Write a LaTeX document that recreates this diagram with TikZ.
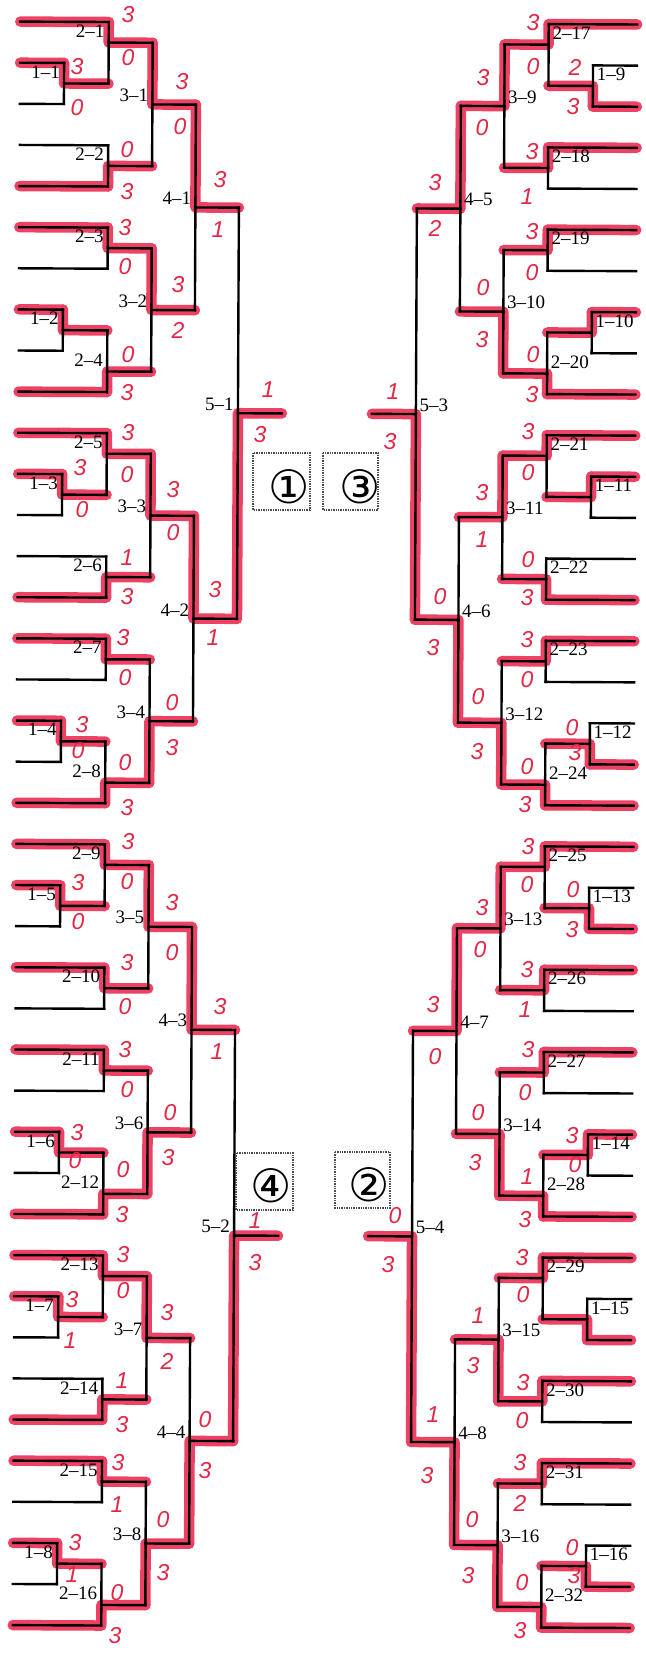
\documentclass[tikz,border=0pt]{standalone}
\usepackage{fontspec}
\setmainfont{Liberation Serif}
\newfontfamily\handfont{Liberation Sans}
\newfontfamily\symfont{DejaVu Sans}
\pgfdeclarelayer{paper}
\pgfdeclarelayer{hilite}
\pgfsetlayers{paper,hilite,main}
\definecolor{hlred}{RGB}{238,66,100}
\definecolor{penred}{RGB}{226,40,70}
\tikzset{
  bline/.style={draw=black,line width=2.4pt,line cap=rect},
  hline/.style={draw=hlred,line width=10.5pt,line cap=round,line join=round},
  lbl/.style={font=\fontsize{19}{19}\selectfont,inner sep=0.6pt},
  score/.style={font=\handfont\itshape\fontsize{23}{23}\selectfont,text=penred,inner sep=0pt},
  pbox/.style={draw=black!70,densely dotted,line width=1.4pt},
  circ/.style={font=\symfont\fontsize{46}{46}\selectfont,inner sep=0pt},
}
\newcommand\SY[1]{{23+(#1)*41.12}}
% match: name, x vertical, x next, k top, k bottom, k out, winner
\newcommand\mt[7]{%
  \coordinate (#1t) at (#2,\SY{#4});
  \coordinate (#1b) at (#2,\SY{#5});
  \coordinate (#1o) at (#2,\SY{#6});
  \coordinate (#1n) at (#3,\SY{#6});
  \draw[bline] (#1t) -- (#1b);
  \draw[bline] (#1o) -- (#1n);
  \begin{pgfonlayer}{hilite}\draw[hline] (#1#7) -- (#1o) -- (#1n);\end{pgfonlayer}
}
% entry line: name, k, x start, target, winner, own side
\newcommand\slotln[6]{%
  \coordinate (#1) at (#3,\SY{#2});
  \draw[bline] (#1) -- (#4);
  \if#5#6\begin{pgfonlayer}{hilite}\draw[hline] (#1) -- (#4);\end{pgfonlayer}\fi
}
\newcommand\labN[3]{\node[lbl,anchor=\NA,xshift=\LX,yshift=-1.8pt] (#1) at (#2) {#3};}
\newcommand\labS[3]{\node[lbl,anchor=\SA,xshift=\LX,yshift=1.8pt] (#1) at (#2) {#3};}
\newcommand\setL{\def\xE{16.5}\def\xA{60.5}\def\xB{105}\def\xC{149}\def\xD{192.5}\def\xF{236}\def\xG{280}%
  \def\NA{north east}\def\SA{south east}\def\LX{-3.5pt}}
\newcommand\setR{\def\xE{633.5}\def\xA{589.5}\def\xB{545}\def\xC{501}\def\xD{457.5}\def\xF{414}\def\xG{370}%
  \def\NA{north west}\def\SA{south west}\def\LX{3pt}}
\newcommand\blk[3]{\def\P{#1}\def\B{#2}\def\J{#3}\blkx}
\newcommand\blkx[9]{%
  \mt{\P1a}{\xA}{\xB}{\B+1}{\B+2}{\B+1.5}{#1}
  \slotln{\P s1}{\B+1}{\xE}{\P1at}{#1}{t}
  \slotln{\P s2}{\B+2}{\xE}{\P1ab}{#1}{b}
  \mt{\P2a}{\xB}{\xC}{\B}{\B+1.5}{\B+0.5}{#2}
  \slotln{\P s0}{\B}{\xE}{\P2at}{#2}{t}
  \mt{\P2b}{\xB}{\xC}{\B+3}{\B+4}{\B+3.5}{#3}
  \slotln{\P s3}{\B+3}{\xE}{\P2bt}{#3}{t}
  \slotln{\P s4}{\B+4}{\xE}{\P2bb}{#3}{b}
  \mt{\P3a}{\xC}{\xD}{\B+0.5}{\B+3.5}{\B+2}{#4}
  \mt{\P2c}{\xB}{\xC}{\B+5}{\B+6}{\B+5.5}{#5}
  \slotln{\P s5}{\B+5}{\xE}{\P2ct}{#5}{t}
  \slotln{\P s6}{\B+6}{\xE}{\P2cb}{#5}{b}
  \mt{\P1b}{\xA}{\xB}{\B+7}{\B+8}{\B+7.5}{#6}
  \slotln{\P s7}{\B+7}{\xE}{\P1bt}{#6}{t}
  \slotln{\P s8}{\B+8}{\xE}{\P1bb}{#6}{b}
  \mt{\P2d}{\xB}{\xC}{\B+7.5}{\B+9}{\B+8.5}{#7}
  \slotln{\P s9}{\B+9}{\xE}{\P2db}{#7}{b}
  \mt{\P3b}{\xC}{\xD}{\B+5.5}{\B+8.5}{\B+7}{#8}
  \mt{\P4}{\xD}{\xF}{\B+2}{\B+7}{\B+4.5}{#9}
  \pgfmathtruncatemacro\nA{4*\J+1}\pgfmathtruncatemacro\nB{4*\J+2}%
  \pgfmathtruncatemacro\nC{4*\J+3}\pgfmathtruncatemacro\nD{4*\J+4}%
  \pgfmathtruncatemacro\oA{2*\J+1}\pgfmathtruncatemacro\oB{2*\J+2}%
  \pgfmathtruncatemacro\fA{\J+1}%
  \labN{\P L2a}{\P2at}{2–\nA}
  \labN{\P L1a}{\P1at}{1–\oA}
  \labN{\P L2b}{\P2bt}{2–\nB}
  \labS{\P L3a}{\P3ao}{3–\oA}
  \labN{\P L2c}{\P2ct}{2–\nC}
  \labN{\P L1b}{\P1bt}{1–\oB}
  \labN{\P L2d}{\P2dt |- \P s8}{2–\nD}
  \labS{\P L3b}{\P3bo}{3–\oB}
  \labS{\P L4}{\P4o}{4–\fA}
}
\newcommand\scr[4]{\node[score] (#1) at (#2,#3) {#4};}
\begin{document}
\begin{tikzpicture}[x=1pt,y=-1pt]
\useasboundingbox (0,0) rectangle (645,1653);
\begin{pgfonlayer}{paper}\fill[white] (0,0) rectangle (645,1653);\end{pgfonlayer}
\begin{scope}[rotate around={-0.27:(322,826)}]
\setL
\blk{a}{0}{0}{t}{t}{b}{t}{t}{t}{b}{t}{t}
\blk{b}{10}{1}{t}{t}{b}{t}{t}{t}{b}{b}{t}
\blk{c}{20}{2}{t}{t}{t}{t}{t}{t}{b}{b}{t}
\blk{d}{30}{3}{t}{t}{b}{t}{t}{t}{b}{b}{b}
\mt{F1}{\xF}{\xG}{4.5}{14.5}{9.5}{b}
\labS{F1L}{F1o}{5–1}
\mt{F2}{\xF}{\xG}{24.5}{34.5}{29.5}{b}
\labS{F2L}{F2o}{5–2}
\setR
\blk{e}{0}{4}{b}{t}{t}{t}{t}{t}{b}{b}{t}
\blk{f}{10}{5}{t}{t}{b}{t}{t}{b}{b}{b}{b}
\blk{g}{20}{6}{b}{t}{t}{t}{t}{t}{b}{b}{t}
\blk{h}{30}{7}{b}{t}{t}{b}{t}{b}{b}{b}{b}
\mt{F3}{\xF}{\xG}{4.5}{14.5}{9.5}{b}
\labS{F3L}{F3o}{5–3}
\mt{F4}{\xF}{\xG}{24.5}{34.5}{29.5}{b}
\labS{F4L}{F4o}{5–4}
\end{scope}
% place boxes
\draw[pbox] (253,453) rectangle (310,510) node[pos=0.5,opacity=0] (boxA) {};
\node[circ] (c1) at (289,487) {①};
\draw[pbox] (323,453) rectangle (378,510) node[pos=0.5,opacity=0] (boxC) {};
\node[circ] (c3) at (360,487) {③};
\draw[pbox] (236,1153) rectangle (293,1210) node[pos=0.5,opacity=0] (boxD) {};
\node[circ] (c4) at (271,1186) {④};
\draw[pbox] (335,1152) rectangle (390,1208) node[pos=0.5,opacity=0] (boxB) {};
\node[circ] (c2) at (369,1185) {②};
% scores, left top
\scr{q1}{128}{15}{3}\scr{q2}{128}{58}{0}
\scr{q3}{77}{67}{3}\scr{q4}{77}{108}{0}
\scr{q5}{182}{82}{3}\scr{q6}{180}{127}{0}
\scr{q7}{127}{150}{0}\scr{q8}{127}{192}{3}
\scr{q9}{220}{180}{3}\scr{q10}{218}{230}{1}
\scr{q11}{125}{228}{3}\scr{q12}{125}{267}{0}
\scr{q13}{178}{285}{3}\scr{q14}{178}{330}{2}
\scr{q15}{128}{355}{0}\scr{q16}{127}{393}{3}
\scr{q17}{268}{390}{1}\scr{q18}{260}{435}{3}
\scr{q19}{128}{433}{3}\scr{q20}{127}{475}{0}
\scr{q21}{80}{468}{3}\scr{q22}{82}{510}{0}
\scr{q23}{173}{490}{3}\scr{q24}{173}{533}{0}
\scr{q25}{127}{558}{1}\scr{q26}{127}{597}{3}
\scr{q27}{215}{590}{3}\scr{q28}{213}{638}{1}
\scr{q29}{123}{638}{3}\scr{q30}{125}{678}{0}
\scr{q31}{172}{703}{0}\scr{q32}{172}{748}{3}
\scr{q33}{82}{725}{3}\scr{q34}{78}{751}{0}
\scr{q35}{125}{763}{0}\scr{q36}{127}{808}{3}
% left bottom
\scr{q37}{128}{842}{3}\scr{q38}{127}{882}{0}
\scr{q39}{78}{883}{3}\scr{q40}{78}{922}{0}
\scr{q41}{172}{903}{3}\scr{q42}{172}{953}{0}
\scr{q43}{127}{963}{3}\scr{q44}{125}{1007}{0}
\scr{q45}{220}{1007}{3}\scr{q46}{217}{1052}{1}
\scr{q47}{125}{1050}{3}\scr{q48}{127}{1090}{0}
\scr{q49}{170}{1113}{0}\scr{q50}{168}{1158}{3}
\scr{q51}{77}{1133}{3}\scr{q52}{75}{1161}{0}
\scr{q53}{123}{1170}{0}\scr{q54}{122}{1215}{3}
\scr{q55}{255}{1221}{1}\scr{q56}{255}{1263}{3}
\scr{q57}{123}{1255}{3}\scr{q58}{123}{1291}{0}
\scr{q59}{72}{1300}{3}\scr{q60}{70}{1341}{1}
\scr{q61}{167}{1313}{3}\scr{q62}{167}{1361}{2}
\scr{q63}{122}{1381}{1}\scr{q64}{122}{1425}{3}
\scr{q65}{205}{1420}{0}\scr{q66}{205}{1471}{3}
\scr{q67}{118}{1463}{3}\scr{q68}{117}{1505}{1}
\scr{q69}{163}{1520}{0}\scr{q70}{163}{1573}{3}
\scr{q71}{75}{1543}{3}\scr{q72}{72}{1575}{1}
\scr{q73}{117}{1593}{0}\scr{q74}{115}{1636}{3}
% right top
\scr{q75}{533}{23}{3}\scr{q76}{533}{67}{0}
\scr{q77}{575}{67}{2}\scr{q78}{573}{107}{3}
\scr{q79}{483}{78}{3}\scr{q80}{482}{128}{0}
\scr{q81}{532}{152}{3}\scr{q82}{527}{197}{1}
\scr{q83}{435}{183}{3}\scr{q84}{435}{228}{2}
\scr{q85}{532}{232}{3}\scr{q86}{532}{273}{0}
\scr{q87}{483}{288}{0}\scr{q88}{482}{340}{3}
\scr{q89}{533}{355}{0}\scr{q90}{532}{395}{3}
\scr{q91}{393}{392}{1}\scr{q92}{390}{442}{3}
\scr{q93}{528}{432}{3}\scr{q94}{528}{473}{0}
\scr{q95}{482}{493}{3}\scr{q96}{482}{540}{1}
\scr{q97}{528}{560}{0}\scr{q98}{527}{598}{3}
\scr{q99}{440}{597}{0}\scr{q100}{433}{648}{3}
\scr{q101}{527}{640}{3}\scr{q102}{527}{680}{0}
\scr{q103}{478}{697}{0}\scr{q104}{477}{752}{3}
\scr{q105}{572}{728}{0}\scr{q106}{575}{753}{3}
\scr{q107}{527}{767}{0}\scr{q108}{525}{805}{3}
% right bottom
\scr{q109}{528}{847}{3}\scr{q110}{527}{885}{0}
\scr{q111}{573}{890}{0}\scr{q112}{572}{930}{3}
\scr{q113}{482}{908}{3}\scr{q114}{480}{950}{0}
\scr{q115}{527}{970}{3}\scr{q116}{525}{1010}{1}
\scr{q117}{433}{1005}{3}\scr{q118}{435}{1057}{0}
\scr{q119}{528}{1050}{3}\scr{q120}{525}{1093}{0}
\scr{q121}{478}{1113}{0}\scr{q122}{475}{1163}{3}
\scr{q123}{572}{1136}{3}\scr{q124}{575}{1165}{0}
\scr{q125}{527}{1177}{1}\scr{q126}{525}{1220}{3}
\scr{q127}{395}{1216}{0}\scr{q128}{388}{1265}{3}
\scr{q129}{522}{1258}{3}\scr{q130}{523}{1295}{0}
\scr{q131}{478}{1316}{1}\scr{q132}{473}{1366}{3}
\scr{q133}{523}{1383}{3}\scr{q134}{522}{1421}{0}
\scr{q135}{433}{1415}{1}\scr{q136}{427}{1476}{3}
\scr{q137}{520}{1463}{3}\scr{q138}{520}{1503}{2}
\scr{q139}{472}{1520}{0}\scr{q140}{468}{1576}{3}
\scr{q141}{572}{1548}{0}\scr{q142}{574}{1576}{3}
\scr{q143}{522}{1583}{0}\scr{q144}{520}{1631}{3}
\end{tikzpicture}
\end{document}
